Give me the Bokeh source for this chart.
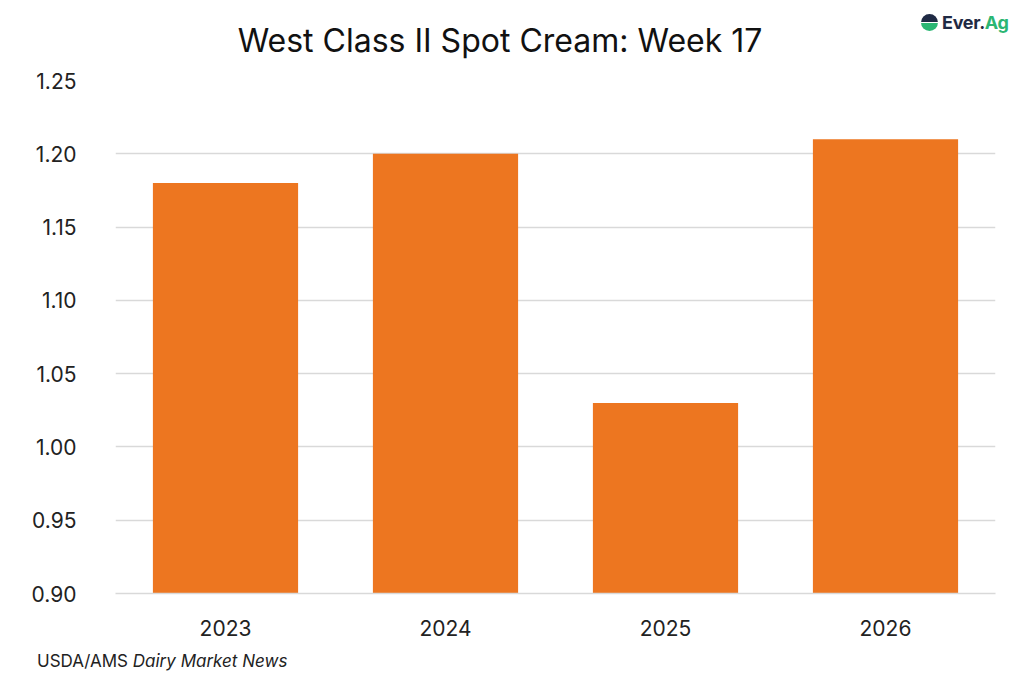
from bokeh.plotting import figure
from bokeh.layouts import column
from bokeh.models import Div, FixedTicker, NumeralTickFormatter, ColumnDataSource
from bokeh.embed import file_html
from bokeh.resources import INLINE

years = ["2023", "2024", "2025", "2026"]
values = [1.18, 1.20, 1.03, 1.21]
y_ticks = [0.90, 0.95, 1.00, 1.05, 1.10, 1.15, 1.20, 1.25]

title_text = "West Class II Spot Cream: Week 17"
source_plain = "USDA/AMS"
source_italic = "Dairy Market News"
logo_a, logo_b = "Ever.", "Ag"

FONT = "Inter"
W = 1008
HEAD_H = 64
FIG_H = 587
FOOT_H = 22
FRAME_TOP = 80      # page y of the 1.25 gridline
FRAME_H = 513
FRAME_LEFT = 115
FRAME_RIGHT = 995

header = Div(
    text=(
        f'<div style="position:relative;width:{W}px;height:{HEAD_H}px;font-family:{FONT};">'
        f'<div style="position:absolute;left:0;top:23px;width:1000px;text-align:center;'
        f'font-size:32px;line-height:36px;color:#111111;white-space:nowrap;">{title_text}</div>'
        f'<div style="position:absolute;left:921px;top:11px;font-size:18px;line-height:24px;'
        f'font-weight:700;white-space:nowrap;letter-spacing:-0.3px;">'
        f'<span style="display:inline-block;width:17px;height:17px;border-radius:50%;'
        f'background:linear-gradient(#1f2a44 0 45%, #ffffff 45% 55%, #2bb673 55% 100%);'
        f'vertical-align:-2px;margin-right:4px;"></span>'
        f'<span style="color:#1f2a44;">{logo_a}</span><span style="color:#2bb673;">{logo_b}</span></div>'
        f'</div>'
    ),
    width=W, height=HEAD_H, margin=0,
)

p = figure(x_range=years, y_range=(0.90, 1.25), width=W, height=FIG_H,
           output_backend="svg", toolbar_location=None,
           min_border_left=FRAME_LEFT, min_border_right=W - FRAME_RIGHT,
           min_border_top=FRAME_TOP - HEAD_H,
           min_border_bottom=FIG_H - (FRAME_TOP - HEAD_H) - FRAME_H,
           margin=0)
p.outline_line_color = None
p.background_fill_color = "white"
p.border_fill_color = "white"

src = ColumnDataSource(dict(x=years, top=values))
p.vbar(x="x", top="top", bottom=0.90, width=0.66, source=src, color="#ED7620", line_color=None)

p.xgrid.grid_line_color = None
p.ygrid.grid_line_color = "#d9d9d9"
p.ygrid.grid_line_width = 1.5
p.yaxis.ticker = FixedTicker(ticks=y_ticks)
p.yaxis.formatter = NumeralTickFormatter(format="0.00")
p.yaxis.axis_line_color = None
p.yaxis.major_tick_line_color = None
p.yaxis.minor_tick_line_color = None
p.yaxis.major_label_standoff = 33
p.yaxis.major_label_text_font = FONT
p.yaxis.major_label_text_font_size = "21px"
p.yaxis.major_label_text_color = "#222222"

p.xaxis.axis_line_color = "#d9d9d9"
p.xaxis.axis_line_width = 1.5
p.xaxis.major_tick_line_color = None
p.xaxis.minor_tick_line_color = None
p.xaxis.major_label_standoff = 20
p.xaxis.major_label_text_font = FONT
p.xaxis.major_label_text_font_size = "21px"
p.xaxis.major_label_text_color = "#222222"

footer = Div(
    text=(
        f'<div style="font-family:{FONT};font-size:17px;line-height:20px;color:#222222;'
        f'padding-left:37px;white-space:nowrap;">{source_plain} <i>{source_italic}</i></div>'
    ),
    width=W, height=FOOT_H, margin=0,
)

layout = column(header, p, footer, spacing=0)
open("out.html", "w").write(file_html(layout, INLINE))
